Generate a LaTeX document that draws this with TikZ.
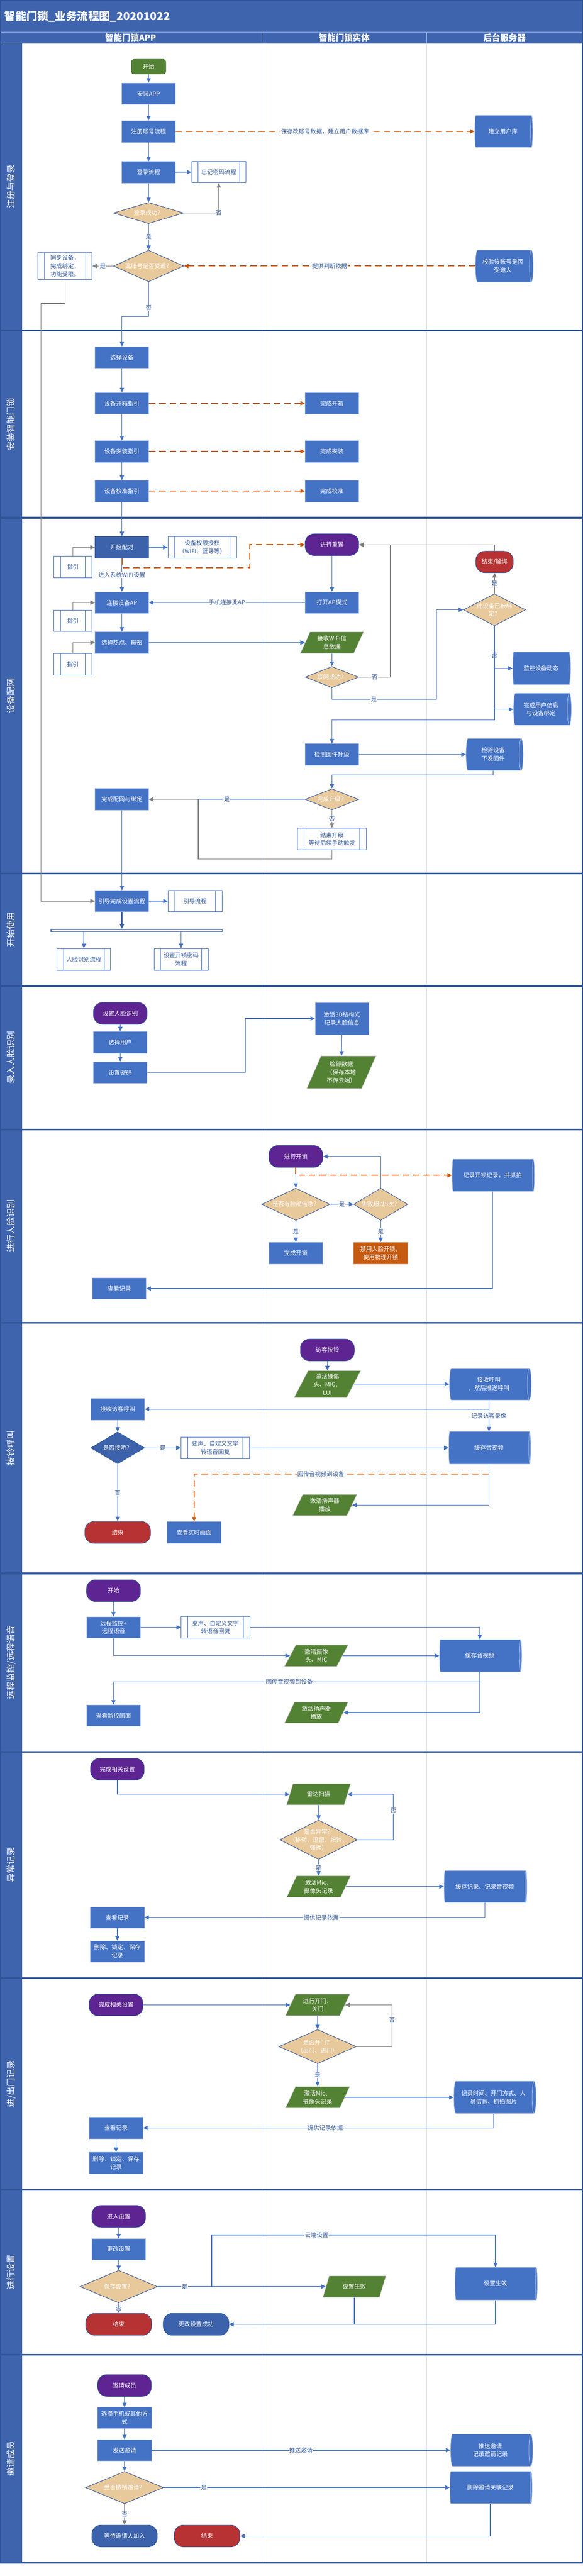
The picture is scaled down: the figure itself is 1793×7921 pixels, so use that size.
\documentclass[tikz,border=0pt]{standalone}
\usepackage{fontspec}
\setmainfont{Noto Sans CJK SC}
\usetikzlibrary{shapes}
\usetikzlibrary{shapes.geometric}
\usetikzlibrary{arrows.meta}
\usetikzlibrary{positioning}

\definecolor{bandblue}{HTML}{3F64AE}
\definecolor{sepblue}{HTML}{2F5597}
\definecolor{boxblue}{HTML}{4472C4}
\definecolor{deepblue}{HTML}{3B62AA}
\definecolor{txtblue}{HTML}{2F5597}
\definecolor{termpurple}{HTML}{5E2492}
\definecolor{termred}{HTML}{B73232}
\definecolor{iogreen}{HTML}{548235}
\definecolor{warnorange}{HTML}{C55A11}
\definecolor{dectan}{HTML}{E8C99B}
\definecolor{linegray}{HTML}{7F7F7F}
\definecolor{colgray}{HTML}{D3DEEE}
\definecolor{headline}{HTML}{A9BDE3}

\begin{document}
\begin{tikzpicture}[
    x=1pt, y=-1pt,
    font=\fontsize{18}{25}\selectfont,
    >={Triangle[length=14pt,width=13pt]}
]
\tikzset{
    procnode/.style = {rectangle, fill=boxblue, draw=boxblue!60!white, line width=1pt, text=white, align=center, minimum width=165pt, minimum height=66pt, inner sep=3pt},
    deepnode/.style = {procnode, fill=deepblue, draw=sepblue},
    warnnode/.style = {procnode, fill=warnorange, draw=warnorange!60!white},
    startnode/.style = {rectangle, rounded corners=8pt, fill=iogreen, draw=iogreen!80!black, line width=1.5pt, text=white, minimum width=106pt, minimum height=45pt},
    subnode/.style = {rectangle, fill=white, draw=boxblue, line width=1.5pt, text=txtblue, align=center, minimum width=166pt, minimum height=66pt,
        path picture={\draw[boxblue, line width=1.2pt]
            ([xshift=20pt]path picture bounding box.north west) -- ([xshift=20pt]path picture bounding box.south west)
            ([xshift=-20pt]path picture bounding box.north east) -- ([xshift=-20pt]path picture bounding box.south east);}},
    termnode/.style = {rectangle, rounded corners=28pt, fill=termpurple, draw=sepblue, line width=1.5pt, text=white, align=center, minimum width=165pt, minimum height=67pt},
    termnoder/.style = {termnode, fill=termred},
    termnoded/.style = {termnode, fill=deepblue},
    ionode/.style = {trapezium, trapezium left angle=65, trapezium right angle=115, trapezium stretches=true, fill=iogreen, draw=gray!40, line width=1.5pt, text=white, align=center, minimum width=196pt, minimum height=66pt, inner sep=2pt},
    dbnode/.style = {cylinder, aspect=0.25, fill=boxblue, draw=white!60!boxblue, line width=1.2pt, text=white, align=center, minimum height=253pt, minimum width=99pt},
    decnode/.style = {diamond, aspect=2, inner sep=0pt, fill=dectan, draw=sepblue, line width=1.5pt, text=white, align=center, minimum width=165pt, minimum height=65pt},
    forknode/.style = {rectangle, draw=boxblue, fill=white, line width=2pt, minimum width=526pt, minimum height=8pt, inner sep=0pt},
    lanenode/.style = {rotate=90, text=white, font=\fontsize{27}{30}\selectfont},
    headnode/.style = {text=white, font=\fontsize{26}{30}\selectfont\bfseries},
    edgeb/.style = {->, draw=boxblue, line width=2pt},
    edgeg/.style = {->, draw=linegray, line width=2pt},
    edgeo/.style = {->, draw=warnorange, line width=3pt, dash pattern=on 20pt off 12pt},
    edgel/.style = {fill=white, text=txtblue, inner sep=1pt}
}
\useasboundingbox (0,0) rectangle (1793,7921);

% frame, header and lanes
\fill[bandblue] (0,0) rectangle (1793,99);
\node[anchor=west, text=white, font=\fontsize{34}{40}\selectfont\bfseries] (title) at (10,50) {智能门锁\_业务流程图\_20201022};
\draw[fill=bandblue, draw=headline, line width=2pt] (0,99) rectangle (805,133);
\draw[fill=bandblue, draw=headline, line width=2pt] (805,99) rectangle (1313,133);
\draw[fill=bandblue, draw=headline, line width=2pt] (1313,99) rectangle (1791,133);
\node[headnode] (head1) at (402,116) {智能门锁APP};
\node[headnode] (head2) at (1059,116) {智能门锁实体};
\node[headnode] (head3) at (1552,116) {后台服务器};
\fill[bandblue] (0,133) rectangle (68,7881);
\draw[colgray, line width=1.5pt] (805,133) -- (805,7881);
\draw[colgray, line width=1.5pt] (1313,133) -- (1313,7881);
\draw[sepblue, line width=5pt] (0,1016) -- (1793,1016);
\draw[sepblue, line width=5pt] (0,1592) -- (1793,1592);
\draw[sepblue, line width=5pt] (0,2686) -- (1793,2686);
\draw[sepblue, line width=5pt] (0,3032) -- (1793,3032);
\draw[sepblue, line width=5pt] (0,3473) -- (1793,3473);
\draw[sepblue, line width=5pt] (0,4068) -- (1793,4068);
\draw[sepblue, line width=5pt] (0,4838) -- (1793,4838);
\draw[sepblue, line width=5pt] (0,5387) -- (1793,5387);
\draw[sepblue, line width=5pt] (0,6082) -- (1793,6082);
\draw[sepblue, line width=5pt] (0,6734) -- (1793,6734);
\draw[sepblue, line width=5pt] (0,7240) -- (1793,7240);
\draw[sepblue, line width=3pt] (1.5,1.5) rectangle (1791,7881);
\draw[sepblue, line width=5pt] (0,7881) -- (1793,7881);
\node[lanenode] (lane1) at (34,574) {注册与登录};
\node[lanenode] (lane2) at (34,1304) {安装智能门锁};
\node[lanenode] (lane3) at (34,2139) {设备配网};
\node[lanenode] (lane4) at (34,2859) {开始使用};
\node[lanenode] (lane5) at (34,3252) {录入人脸识别};
\node[lanenode] (lane6) at (34,3770) {进行人脸识别};
\node[lanenode] (lane7) at (34,4453) {按铃呼叫};
\node[lanenode] (lane8) at (34,5112) {远程监控/远程语音};
\node[lanenode] (lane9) at (34,5734) {异常记录};
\node[lanenode] (lane10) at (34,6408) {进/出门记录};
\node[lanenode] (lane11) at (34,6987) {进行设置};
\node[lanenode] (lane12) at (34,7560) {邀请成员};

% register and login
\node[startnode] (start) at (457,205) {开始};
\node[procnode] (app) at (457,288) {安装APP};
\node[procnode] (reg) at (457,404) {注册账号流程};
\node[dbnode, minimum height=178pt, minimum width=98pt] (userdb) at (1547,404) {建立用户库};
\node[procnode] (login) at (457,530) {登录流程};
\node[subnode, minimum width=167pt] (forgot) at (673,529) {忘记密码流程};
\node[decnode, minimum width=216pt, minimum height=65pt] (loginok) at (457,655) {登录成功？};
\node[decnode, minimum width=216pt, minimum height=97pt] (invited) at (457,818) {此账号是否受邀？};
\node[subnode, minimum height=83pt, align=left] (sync) at (200,818) {同步设备，\\完成绑定，\\功能受限。};
\node[dbnode, minimum height=178pt, minimum width=98pt] (checkinv) at (1547,818) {校验该账号是否\\受邀人};
\coordinate (c1) at (126,933);

\draw[edgeb] (start) -- (app);
\draw[edgeb] (app) -- (reg);
\draw[edgeb] (reg) -- (login);
\draw[edgeb, line width=3pt] (login) -- (forgot);
\draw[edgeo] (reg.east) -- node[edgel] (lb1) {保存改账号数据，建立用户数据库} (userdb.west);
\draw[edgeb] (login) -- (loginok);
\draw[edgeg] (loginok.east) -| node[edgel] (lb2) {否} (forgot.south);
\draw[edgeb] (loginok.south) -- node[edgel] (lb3) {是} (invited.north);
\draw[edgeo] (checkinv.west) -- node[edgel] (lb4) {提供判断依据} (invited.east);
\draw[edgeg] (invited.west) -- node[edgel] (lb5) {是} (sync.east);

% install
\node[procnode] (select) at (375,1099) {选择设备};
\node[procnode] (unbox) at (375,1240) {设备开箱指引};
\node[procnode] (unboxed) at (1021,1240) {完成开箱};
\node[procnode] (install) at (375,1388) {设备安装指引};
\node[procnode] (installed) at (1021,1388) {完成安装};
\node[procnode] (calib) at (375,1510) {设备校准指引};
\node[procnode] (calibd) at (1021,1510) {完成校准};

\draw[edgeb] (invited.south) -- node[edgel, pos=0.75] (lb6) {否} ++(0,106) -| (select.north);
\draw[edgeb] (select) -- (unbox);
\draw[edgeb] (unbox) -- (install);
\draw[edgeb] (install) -- (calib);
\draw[edgeo] (unbox) -- (unboxed);
\draw[edgeo] (install) -- (installed);
\draw[edgeo] (calib) -- (calibd);

% pairing
\node[deepnode, minimum height=67pt] (pair) at (375,1683) {开始配对};
\node[subnode, minimum width=211pt, minimum height=67pt] (perm) at (622,1683) {设备权限授权\\（WIFI、蓝牙等）};
\node[subnode, minimum width=116pt] (guide1) at (224,1743) {指引};
\node[termnode] (reset) at (1021,1675) {进行重置};
\node[termnoder, minimum width=115pt, minimum height=66pt] (unbind) at (1521,1728) {结束/解绑};
\node[procnode] (connap) at (375,1853) {连接设备AP};
\node[subnode, minimum width=116pt] (guide2) at (224,1909) {指引};
\node[procnode] (apmode) at (1021,1853) {打开AP模式};
\node[procnode] (hotspot) at (375,1976) {选择热点、输密};
\node[subnode, minimum width=116pt] (guide3) at (224,2043) {指引};
\node[ionode, minimum width=195pt] (wifidata) at (1021,1976) {接收WiFi信\\息数据};
\node[decnode] (netok) at (1021,2082) {联网成功？};
\node[decnode, minimum width=181pt, minimum height=98pt] (bound) at (1521,1875) {此设备已被绑\\定？};
\node[dbnode, minimum height=178pt, minimum width=100pt] (monitor) at (1664,2055) {监控设备动态};
\node[dbnode, minimum height=178pt, minimum width=98pt] (bindinfo) at (1664,2181) {完成用户信息\\与设备绑定};
\node[procnode] (fwcheck) at (1021,2320) {检测固件升级};
\node[dbnode, minimum height=176pt, minimum width=98pt] (fwpush) at (1517,2320) {检验设备\\下发固件};
\node[decnode] (fwok) at (1021,2458) {完成升级？};
\node[procnode] (bindok) at (375,2458) {完成配网与绑定};
\node[subnode, minimum width=211pt] (fwend) at (1021,2580) {结束升级\\等待后续手动触发};
\coordinate (o1) at (769,1746);
\coordinate (g1) at (1201,2082);
\coordinate (g2) at (1343,2150);
\coordinate (b3) at (1521,2214);
\coordinate (b4) at (1517,2383);
\coordinate (g4) at (610,2642);

\draw[edgeb] (calib) -- (pair);
\draw[edgeb, line width=3pt] (pair) -- (perm);
\draw[edgeg] (guide1.north) |- (pair.west);
\draw[edgeb] (pair.south) -- node[edgel] (lb7) {进入系统WIFI设置} (connap.north);
\draw[edgeo] (pair.south) |- (o1) |- (reset.west);
\draw[edgeb] (reset) -- (apmode);
\draw[edgeb] (apmode.west) -- node[edgel] (lb8) {手机连接此AP} (connap.east);
\draw[edgeg] (guide2.north) |- (connap.west);
\draw[edgeb] (connap) -- (hotspot);
\draw[edgeg] (guide3.north) |- (hotspot.west);
\draw[edgeb] (hotspot.east) -- (wifidata.west);
\draw[edgeb] (wifidata.south) -- (netok.north);
\draw[edgeg] (netok.east) -- node[edgel] (lb9) {否} (g1) |- (reset.east);
\draw[edgeg] (unbind.north) |- (reset.east);
\draw[edgeg] (bound.north) -- node[edgel] (lb10) {是} (unbind.south);
\draw[edgeb] (netok.south) |- node[edgel, pos=0.7] (lb11) {是} (g2) |- (bound.west);
\draw[edgeb] (bound.south) |- node[edgel, pos=0.35] (lb12) {否} (monitor.west);
\draw[edgeb] (bound.south) |- (bindinfo.west);
\draw[edgeb] (bound.south) -- (b3) -| (fwcheck.north);
\draw[edgeb] (fwcheck) -- (fwpush);
\draw[edgeb] (fwpush.south) -- (b4) -| (fwok.north);
\draw[edgeb] (fwok.west) -- node[edgel] (lb13) {是} (bindok.east);
\draw[edgeg] (fwok.south) -- node[edgel] (lb14) {否} (fwend.north);
\draw[edgeg] (fwend.south) |- (g4) |- (bindok.east);

% start using
\node[procnode, minimum height=65pt] (guidset) at (375,2771) {引导完成设置流程};
\node[subnode, minimum height=65pt] (guideflow) at (600,2771) {引导流程};
\node[forknode] (fork) at (420,2861) {};
\node[subnode, minimum width=165pt, minimum height=67pt] (facerec) at (258,2950) {人脸识别流程};
\node[subnode, minimum height=67pt] (pwdflow) at (557,2950) {设置开锁密码\\流程};

\draw[edgeg] (sync.south) |- (c1) |- (guidset.west);
\draw[edgeb] (bindok) -- (guidset);
\draw[edgeb, line width=3pt] (guidset) -- (guideflow);
\draw[->, draw=deepblue, line width=5pt] (guidset.south) -- (guidset.south |- fork.north);
\draw[edgeb] (facerec.north |- fork.south) -- (facerec.north);
\draw[edgeb] (pwdflow.north |- fork.south) -- (pwdflow.north);

% enter face
\node[termnode] (setface) at (370,3116) {设置人脸识别};
\node[procnode] (selectuser) at (370,3205) {选择用户};
\node[procnode] (setpwd) at (370,3298) {设置密码};
\node[procnode, minimum height=98pt] (act3d) at (1052,3132) {激活3D结构光\\记录人脸信息};
\node[ionode, minimum width=213pt, minimum height=100pt] (facedata) at (1050,3297) {脸部数据\\（保存本地\\不传云端）};
\coordinate (f1) at (755,3132);

\draw[edgeb] (setface) -- (selectuser);
\draw[edgeb] (selectuser) -- (setpwd);
\draw[edgeb] (setpwd.east) -| (f1) -- (act3d.west);
\draw[edgeb] (act3d) -- (facedata);

% face unlock
\node[termnode, minimum width=166pt] (unlock) at (910,3556) {进行开锁};
\node[decnode, minimum width=210pt, minimum height=99pt] (hasface) at (910,3703) {是否有脸部信息？};
\node[decnode, minimum width=166pt, minimum height=99pt] (fail5) at (1171,3703) {失败超过5次？};
\node[dbnode] (unlockrec) at (1515,3614) {记录开锁记录，并抓拍};
\node[procnode] (unlocked) at (910,3853) {完成开锁};
\node[warnnode, minimum width=166pt] (disable) at (1171,3853) {禁用人脸开锁，\\使用物理开锁};
\node[procnode] (viewrec1) at (367,3962) {查看记录};

\draw[edgeb] (unlock) -- (hasface);
\draw[edgeo] (unlock.south) |- (unlockrec.west);
\draw[edgeb] (hasface.east) -- node[edgel] (lb15) {是} (fail5.west);
\draw[edgeb] (fail5.north) |- (unlock.east);
\draw[edgeb] (hasface.south) -- node[edgel] (lb16) {是} (unlocked.north);
\draw[edgeb] (fail5.south) -- node[edgel] (lb17) {是} (disable.north);
\draw[edgeb] (unlockrec.south) |- (viewrec1.east);

% doorbell
\node[termnode, minimum width=166pt] (ring) at (1007,4151) {访客按铃};
\node[ionode, minimum width=205pt, minimum height=83pt] (camon) at (1007,4256) {激活摄像\\头、MIC、\\LUI};
\node[dbnode, minimum height=252pt, minimum width=98pt] (callpush) at (1504,4256) {接收呼叫\\，然后推送呼叫};
\node[procnode] (recvcall) at (362,4333) {接收访客呼叫};
\node[decnode, fill=deepblue, minimum height=98pt] (answer) at (362,4452) {是否接听？};
\node[subnode, minimum width=211pt, minimum height=67pt] (voice1) at (662,4452) {变声、自定义文字\\转语音回复};
\node[dbnode, minimum height=252pt, minimum width=100pt] (cache1) at (1504,4452) {缓存音视频};
\node[termnoder, minimum width=202pt] (end1) at (362,4712) {结束};
\node[procnode] (live) at (597,4712) {查看实时画面};
\node[ionode, minimum width=198pt, minimum height=65pt] (speaker1) at (999,4628) {激活扬声器\\播放};
\coordinate (o2) at (1504,4532);

\draw[edgeb] (ring) -- (camon);
\draw[edgeb] (camon.east) -- (callpush.west);
\draw[edgeb] (callpush.south) |- (recvcall.east);
\draw[edgeb] (callpush.south) -- node[edgel] (lb18) {记录访客录像} (cache1.north);
\draw[edgeb] (recvcall) -- (answer);
\draw[edgeb] (answer.east) -- node[edgel] (lb19) {是} (voice1.west);
\draw[edgeb] (voice1.east) -- (cache1.west);
\draw[edgeb] (answer.south) -- node[edgel] (lb20) {否} (end1.north);
\draw[edgeb] (cache1.south) |- (speaker1.east);
\draw[edgeo] (o2) -| node[edgel, pos=0.285] (lb21) {回传音视频到设备} (live.north);

% remote monitor
\node[termnode, minimum width=166pt] (start2) at (349,4891) {开始};
\node[procnode] (remote) at (349,5004) {远程监控+\\远程语音};
\node[subnode, minimum width=211pt, minimum height=67pt] (voice2) at (663,5004) {变声、自定义文字\\转语音回复};
\node[ionode] (cam2) at (973,5091) {激活摄像\\头、MIC};
\node[dbnode] (cache2) at (1476,5091) {缓存音视频};
\node[procnode] (viewmon) at (349,5275) {查看监控画面};
\node[ionode, minimum height=65pt] (speaker2) at (973,5266) {激活扬声器\\播放};

\draw[edgeb] (start2) -- (remote);
\draw[edgeb] (remote) -- (voice2);
\draw[edgeb] (voice2.east) -| (cache2.north);
\draw[edgeb] (remote.south) |- (cam2.west);
\draw[edgeb] (cam2.east) -- (cache2.west);
\draw[edgeb] (cache2.south) -- ++(0,30) -| node[edgel, pos=0.26] (lb22) {回传音视频到设备} (viewmon.north);
\draw[edgeb] (cache2.south) |- (speaker2.east);

% alarm records
\node[termnode] (done1) at (361,5440) {完成相关设置};
\node[ionode, minimum width=197pt, minimum height=65pt] (radar) at (980,5517) {雷达扫描};
\node[decnode, minimum width=239pt, minimum height=121pt, inner sep=-30pt] (abn) at (980,5657) {是否异常？\\（移动、逗留、按铃、\\强拆）};
\node[ionode, minimum width=197pt] (mic1) at (980,5801) {激活Mic、\\摄像头记录};
\node[dbnode, minimum height=255pt, minimum width=98pt] (cache3) at (1491,5801) {缓存记录、记录音视频};
\node[procnode] (viewrec2) at (361,5896) {查看记录};
\node[procnode, minimum height=65pt] (del1) at (361,6000) {删除、锁定、保存\\记录};
\coordinate (a1) at (1210,5517);

\draw[edgeb] (done1.south) |- (radar.west);
\draw[edgeb] (radar) -- (abn);
\draw[edgeb] (abn.east) -| node[edgel, pos=0.82] (lb23) {否} (a1) -- (radar.east);
\draw[edgeb] (abn.south) -- node[edgel] (lb24) {是} (mic1.north);
\draw[edgeb] (mic1.east) -- (cache3.west);
\draw[edgeb] (cache3.south) |- node[edgel, pos=0.74] (lb25) {提供记录依据} (viewrec2.east);
\draw[edgeb] (viewrec2) -- (del1);

% door records
\node[termnode] (done2) at (357,6165) {完成相关设置};
\node[ionode, minimum width=198pt] (door) at (977,6165) {进行开门、\\关门};
\node[decnode, minimum width=238pt, minimum height=99pt] (opened) at (977,6293) {是否开门？\\（出门、进门）};
\node[ionode, minimum width=198pt] (mic2) at (977,6449) {激活Mic、\\摄像头记录};
\node[dbnode] (doorrec) at (1518,6449) {记录时间、开门方式、人\\员信息、抓拍图片};
\node[procnode] (viewrec3) at (357,6543) {查看记录};
\node[procnode] (del2) at (357,6651) {删除、锁定、保存\\记录};
\coordinate (a2) at (1206,6165);

\draw[edgeb] (done2.east) -- (door.west);
\draw[edgeb] (door) -- (opened);
\draw[edgeg] (opened.east) -| node[edgel, pos=0.82] (lb26) {否} (a2) -- (door.east);
\draw[edgeb] (opened.south) -- node[edgel] (lb27) {是} (mic2.north);
\draw[edgeb] (mic2.east) -- (doorrec.west);
\draw[edgeb] (doorrec.south) |- node[edgel, pos=0.74] (lb28) {提供记录依据} (viewrec3.east);
\draw[edgeb] (viewrec3) -- (del2);

% settings
\node[termnode] (enterset) at (365,6815) {进入设置};
\node[procnode, minimum height=65pt] (change) at (365,6916) {更改设置};
\node[decnode, minimum width=239pt, minimum height=100pt] (saveq) at (365,7031) {保存设置？};
\node[ionode] (effect1) at (1090,7031) {设置生效};
\node[dbnode, minimum width=100pt] (effect2) at (1524,7022) {设置生效};
\node[termnoder, minimum width=203pt] (end2) at (365,7147) {结束};
\node[termnoded, minimum width=202pt] (changeok) at (603,7147) {更改设置成功};
\coordinate (s1) at (651,7031);

\draw[edgeb] (enterset) -- (change);
\draw[edgeb] (change) -- (saveq);
\draw[edgeb, line width=3pt] (saveq.east) -- node[edgel, pos=0.16] (lb29) {是} (effect1.west);
\draw[edgeb] (s1) -- ++(0,-159) -| node[edgel, pos=0.185] (lb30) {云端设置} (effect2.north);
\draw[edgeb] (saveq.south) -- node[edgel] (lb31) {否} (end2.north);
\draw[edgeb] (effect1.south) |- (changeok.east);
\draw[edgeb] (effect2.south) |- (changeok.east);

% invite members
\node[termnode] (invite) at (383,7335) {邀请成员};
\node[procnode, minimum height=65pt] (choose) at (383,7435) {选择手机或其他方\\式};
\node[procnode] (send) at (383,7534) {发送邀请};
\node[dbnode] (pushinv) at (1508,7534) {推送邀请\\记录邀请记录};
\node[decnode, minimum width=240pt, minimum height=99pt] (revoke) at (383,7649) {受否撤销邀请？};
\node[dbnode] (delinv) at (1508,7649) {删除邀请关联记录};
\node[termnoded, minimum width=201pt] (wait) at (383,7798) {等待邀请人加入};
\node[termnoder, minimum width=202pt] (end3) at (637,7798) {结束};

\draw[edgeb] (invite) -- (choose);
\draw[edgeb] (choose) -- (send);
\draw[edgeb] (send) -- (revoke);
\draw[edgeb, line width=3pt] (send.east) -- node[edgel] (lb32) {推送邀请} (pushinv.west);
\draw[edgeb, line width=3pt] (revoke.east) -- node[edgel, pos=0.14] (lb33) {是} (delinv.west);
\draw[edgeg] (revoke.south) -- node[edgel] (lb34) {否} (wait.north);
\draw[edgeb] (delinv.south) |- (end3.east);
\end{tikzpicture}
\end{document}
